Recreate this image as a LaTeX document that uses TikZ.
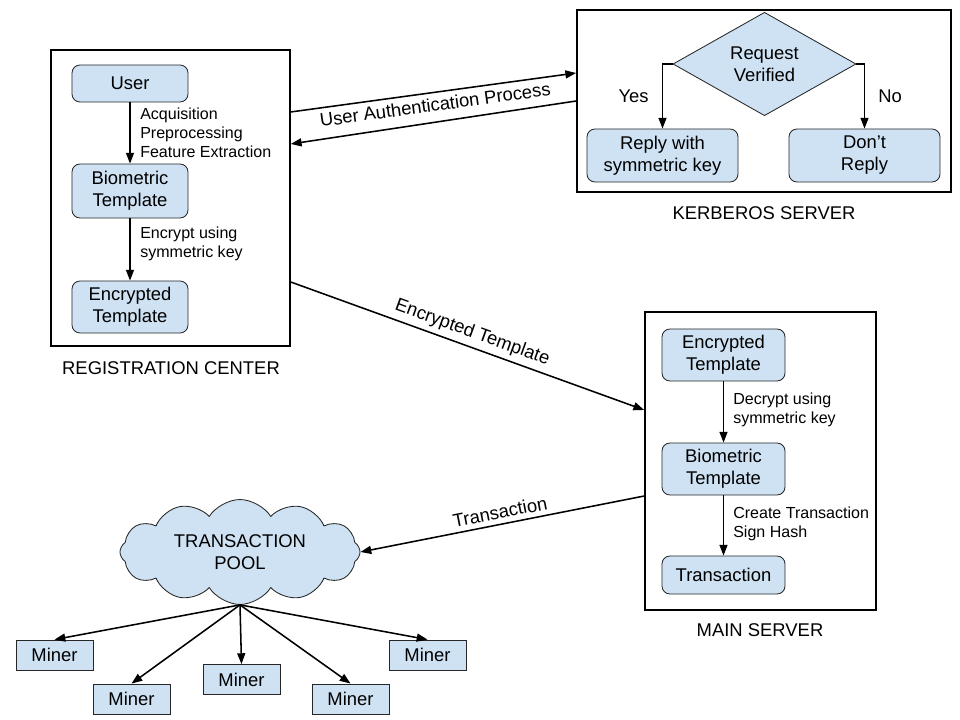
\documentclass[tikz,border=0pt]{standalone}
\usepackage{fontspec}
\setmainfont{Liberation Sans}
\usetikzlibrary{shapes.geometric,shapes.symbols,arrows.meta}

\definecolor{boxblue}{HTML}{CFE2F3}

\begin{document}
\begin{tikzpicture}[x=0.025cm, y=-0.025cm,
  every node/.style={font=\fontsize{13.1}{15.6}\selectfont, align=center},
  frame/.style={draw, line width=1.1pt, inner sep=0pt},
  block/.style={draw=black!85, line width=0.6pt, fill=boxblue, rounded corners=0.2cm, inner sep=0pt},
  decision/.style={diamond, draw=black!85, line width=0.6pt, fill=boxblue, inner sep=0pt,
    minimum width=4.575cm, minimum height=2.15cm},
  pool/.style={cloud, cloud puffs=12, cloud puff arc=115, aspect=2.3, draw=black!85, line width=0.6pt,
    fill=boxblue, minimum width=6cm, minimum height=2.6cm, inner sep=0pt},
  miner/.style={draw=black!85, line width=0.6pt, fill=boxblue, minimum width=1.925cm, minimum height=0.75cm, inner sep=0pt},
  steplabel/.style={anchor=west, align=left, inner sep=0pt, font=\fontsize{11.4}{13.5}\selectfont},
  link/.style={line width=1.1pt, -{Triangle[length=0.27cm, width=0.2cm]}}]
  \useasboundingbox (0,0) rectangle (960,720);

  % registration center
  \node[frame, minimum width=5.975cm, minimum height=7.4cm] (reg) at (170.5,198) {};
  \node (reglabel) at (171,368) {REGISTRATION CENTER};
  \node[block, minimum width=2.9cm, minimum height=0.925cm] (user) at (130,83.5) {User};
  \node[block, minimum width=2.9cm, minimum height=1.35cm] (bioA) at (130,191) {Biometric\\Template};
  \node[block, minimum width=2.9cm, minimum height=1.3cm] (encA) at (130,307) {Encrypted\\Template};
  \draw[link] (user) -- (bioA);
  \draw[link] (bioA) -- (encA);
  \node[steplabel] (acqlabel) at (140,133) {Acquisition\\Preprocessing\\Feature Extraction};
  \node[steplabel] (enclabel) at (140,243.5) {Encrypt using\\symmetric key};

  % kerberos server
  \node[frame, minimum width=9.35cm, minimum height=4.55cm] (kerb) at (764,101) {};
  \node (kerblabel) at (764,213) {KERBEROS SERVER};
  \node[decision] (verify) at (764.5,64) {Request\\Verified};
  \node[block, minimum width=3.775cm, minimum height=1.325cm] (replykey) at (662.5,155.5) {Reply with\\symmetric key};
  \node[block, minimum width=3.775cm, minimum height=1.325cm] (noreply) at (864.5,155.5) {Don't\\Reply};
  \draw[link] (verify.west) -| node[pos=0.75, left=6pt] {Yes} (replykey.north);
  \draw[link] (verify.east) -| node[pos=0.75, right=6pt] {No} (noreply.north);

  % main server
  \node[frame, minimum width=5.775cm, minimum height=7.45cm] (main) at (760.5,461) {};
  \node (mainlabel) at (760,630) {MAIN SERVER};
  \node[block, minimum width=3.075cm, minimum height=1.3cm] (encB) at (723.5,355) {Encrypted\\Template};
  \node[block, minimum width=3.075cm, minimum height=1.3cm] (bioB) at (723.5,469) {Biometric\\Template};
  \node[block, minimum width=3.075cm, minimum height=0.95cm] (trans) at (723.5,575) {Transaction};
  \draw[link] (encB) -- (bioB);
  \draw[link] (bioB) -- (trans);
  \node[steplabel] (declabel) at (733,409.5) {Decrypt using\\symmetric key};
  \node[steplabel] (crlabel) at (733,523.5) {Create Transaction\\Sign Hash};

  % links between the parts
  \draw[link] ([yshift=2.15cm]reg.east) -- node[midway, below, sloped] {User Authentication Process} ([yshift=0.7cm]kerb.west);
  \draw[link] (kerb.west) -- ([yshift=1.35cm]reg.east);
  \draw[link] ([yshift=-2.1cm]reg.east) -- node[midway, above, sloped] {Encrypted Template} ([yshift=1.275cm]main.west);

  % transaction pool and miners
  \node[pool] (txpool) at (240,552) {TRANSACTION\\POOL};
  \draw[link] ([yshift=-0.875cm]main.west) -- node[midway, above, sloped] {Transaction} (txpool.east);
  \node[miner] (m1) at (54.5,655) {Miner};
  \node[miner] (m2) at (131.5,699) {Miner};
  \node[miner] (m3) at (241.5,679.5) {Miner};
  \node[miner] (m4) at (350.5,699) {Miner};
  \node[miner] (m5) at (427.5,655) {Miner};
  \foreach \m in {m1,m2,m3,m4,m5}
    \draw[link] (txpool.south) -- (\m.north);
\end{tikzpicture}
\end{document}
